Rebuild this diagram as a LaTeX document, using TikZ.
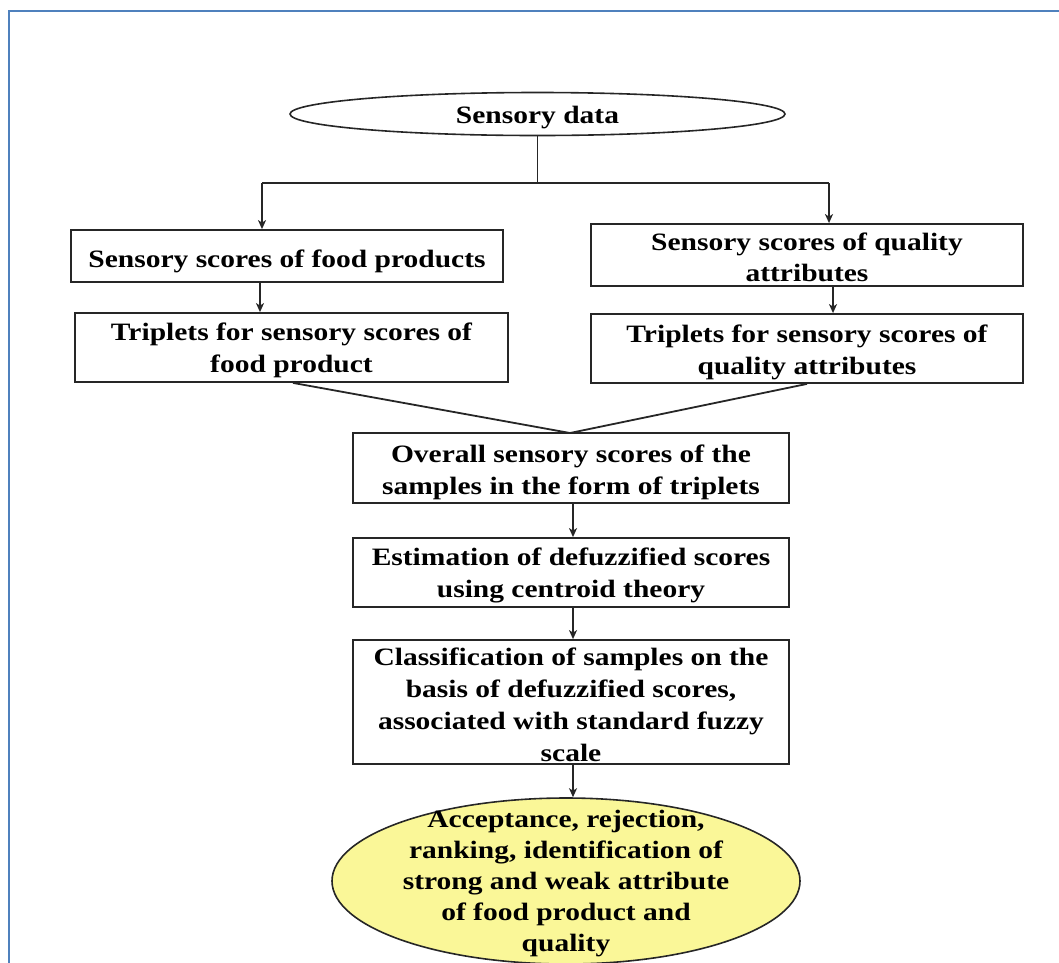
\documentclass[tikz,border=0pt]{standalone}
\usepackage{fontspec}
\setmainfont{Liberation Serif}[FakeStretch=1.18]
\usetikzlibrary{shapes.geometric,arrows.meta}
\definecolor{frameblue}{RGB}{79,129,189}
\definecolor{outcome}{RGB}{250,247,152}
\begin{document}
\begin{tikzpicture}[x=1pt,y=-1pt,
  txt/.style={font=\bfseries\fontsize{25}{32}\selectfont, align=center, inner sep=0pt},
  stepbox/.style={draw=black!85, line width=1.8pt, rectangle, inner sep=0pt},
  oval/.style={draw=black!85, line width=1.6pt, ellipse, inner sep=0pt},
  link/.style={line width=1.8pt, draw=black!85},
  arr/.style={link, -{Stealth[length=9pt,width=8pt,inset=2.5pt]}}]
\useasboundingbox (0,0) rectangle (1059,962);
% page frame
\begin{scope}
  \clip (0,0) rectangle (1059,962);
  \draw[frameblue, line width=2.5pt] (9,11) rectangle (1100,1000);
\end{scope}

% shapes
\node[oval, minimum width=495pt, minimum height=43pt] (data) at (537.5,114) {};
\node[stepbox, minimum width=432pt, minimum height=52pt] (sL1) at (287,256) {};
\node[stepbox, minimum width=433pt, minimum height=69pt] (tL1) at (291.5,347.5) {};
\node[stepbox, minimum width=432pt, minimum height=62pt] (sR1) at (807,255) {};
\node[stepbox, minimum width=432pt, minimum height=69pt] (tR1) at (807,348.5) {};
\node[stepbox, minimum width=436pt, minimum height=70pt] (ov) at (571,468) {};
\node[stepbox, minimum width=436pt, minimum height=69pt] (es) at (571,572.5) {};
\node[stepbox, minimum width=436pt, minimum height=124pt] (cl) at (571,702) {};
\node[oval, fill=outcome, minimum width=468pt, minimum height=166pt] (res) at (566,881) {};

% texts
\node[txt] (dataT) at ([yshift=-3.5pt]data.center) {Sensory data};
\node[txt] (sL1T) at ([yshift=-5pt]sL1.center) {Sensory scores of food products};
\node[txt] (tL1T) at ([yshift=-3pt]tL1.center) {Triplets for sensory scores of\\food product};
\node[txt, font=\bfseries\fontsize{25}{31}\selectfont] (sR1T) at ([yshift=-2.5pt]sR1.center) {Sensory scores of quality\\attributes};
\node[txt] (tR1T) at ([yshift=-3.4pt]tR1.center) {Triplets for sensory scores of\\quality attributes};
\node[txt] (ovT) at ([yshift=-4pt]ov.center) {Overall sensory scores of the\\samples in the form of triplets};
\node[txt] (esT) at ([yshift=-3pt]es.center) {Estimation of defuzzified scores\\using centroid theory};
\node[txt] (clT) at ([yshift=-2.5pt]cl.center) {Classification of samples on the\\basis of defuzzified scores,\\associated with standard fuzzy\\scale};
\node[txt, font=\bfseries\fontsize{25}{31}\selectfont] (resT) at ([yshift=-3pt]res.center) {Acceptance, rejection,\\ranking, identification of\\strong and weak attribute\\of food product and\\quality};

% connectors
\coordinate (split) at (537.5,183);
\coordinate (jL) at (262,183);
\coordinate (jR) at (829,183);
\coordinate (meet) at (570,433);
\draw[link] (data.south) -- (split);
\draw[link] (jL) -- (jR);
\draw[arr] (jL) -- (jL |- sL1.north);
\draw[arr] (jR) -- (jR |- sR1.north);
\draw[arr] (sL1.south -| 260,0) -- (tL1.north -| 260,0);
\draw[arr] (sR1.south -| 833,0) -- (tR1.north -| 833,0);
\draw[link] (tL1.south -| 293,0) -- (meet);
\draw[link] (tR1.south -| 807,0) -- (meet);
\draw[arr] (ov.south -| 573,0) -- (es.north -| 573,0);
\draw[arr] (es.south -| 573,0) -- (cl.north -| 573,0);
\draw[arr] (cl.south -| 573,0) -- (res.north -| 573,0);
\end{tikzpicture}
\end{document}
